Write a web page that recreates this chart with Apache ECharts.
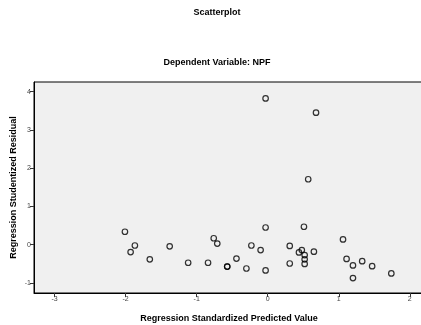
<!DOCTYPE html>
<html>
<head>
<meta charset="utf-8">
<script src="https://cdn.jsdelivr.net/npm/echarts@6/dist/echarts.min.js"></script>
<style>
  html, body { margin: 0; padding: 0; background: #fff; }
  #chart { width: 421px; height: 325px; }
</style>
</head>
<body>
<div id="chart"></div>
<script>
// standardized predicted value (x) and studentized residual (y)
const predicted = [
  -2.01, -1.87, -1.93, -1.66, -1.38, -1.12, -0.84, -0.76, -0.71, -0.57, -0.57, -0.44,
  -0.30, -0.23, -0.10, -0.03, -0.03, -0.03, 0.31, 0.31, 0.44, 0.48, 0.51, 0.52,
  0.52, 0.52, 0.57, 0.65, 0.68, 1.06, 1.11, 1.20, 1.20, 1.33, 1.47, 1.74
];
const residual = [
  0.34, -0.02, -0.19, -0.38, -0.04, -0.47, -0.47, 0.17, 0.03, -0.57, -0.57, -0.36,
  -0.62, -0.02, -0.14, 3.82, 0.45, -0.67, -0.03, -0.49, -0.20, -0.14, 0.47, -0.27,
  -0.38, -0.50, 1.71, -0.18, 3.45, 0.14, -0.37, -0.54, -0.87, -0.43, -0.56, -0.75
];
const xTicks = [-3, -2, -1, 0, 1, 2];
const yTicks = [-1, 0, 1, 2, 3, 4];

const font = 'Liberation Sans, Arial, sans-serif';
const chart = echarts.init(document.getElementById('chart'), null, { renderer: 'canvas' });

const tickAxis = (ticks) => ({
  axisLine: { show: true, onZero: false, lineStyle: { color: '#000', width: 1 } },
  axisTick: { show: true, length: 4, customValues: ticks, lineStyle: { color: '#333' } },
  axisLabel: { customValues: ticks, fontSize: 7, color: '#444', fontFamily: font, margin: 3 },
  splitLine: { show: false },
  nameTextStyle: { fontSize: 9, fontWeight: 'bold', color: '#000', fontFamily: font },
  nameLocation: 'middle',
  nameMoveOverlap: false,
});

chart.setOption({
  animation: false,
  graphic: [
    {
      type: 'text', x: 217, y: 13,
      style: { text: 'Scatterplot', font: 'bold 9px ' + font, fill: '#000', align: 'center', verticalAlign: 'middle' },
    },
    {
      type: 'text', x: 217, y: 63,
      style: { text: 'Dependent Variable: NPF', font: 'bold 9px ' + font, fill: '#000', align: 'center', verticalAlign: 'middle' },
    },
  ],
  grid: {
    left: 34, top: 82, right: -3, bottom: 32,
    outerBoundsMode: 'none',
    show: true, backgroundColor: '#f0f0f0', borderColor: '#000', borderWidth: 1,
  },
  xAxis: {
    type: 'value', min: -3.29, max: 2.20,
    name: 'Regression Standardized Predicted Value', nameGap: 21,
    ...tickAxis(xTicks),
  },
  yAxis: {
    type: 'value', min: -1.26, max: 4.25,
    name: 'Regression Studentized Residual', nameGap: 16,
    ...tickAxis(yTicks),
  },
  series: [
    {
      type: 'scatter',
      symbol: 'circle',
      symbolSize: 5.5,
      itemStyle: { color: 'rgba(0,0,0,0)', borderColor: '#000', borderWidth: 1.2 },
      emphasis: { disabled: true },
      data: predicted.map((x, i) => [x, residual[i]]),
    },
  ],
});
</script>
</body>
</html>
